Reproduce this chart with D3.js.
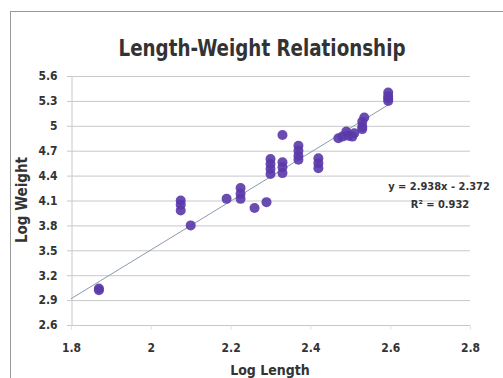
<!DOCTYPE html>
<html>
<head>
<meta charset="utf-8">
<script src="https://cdn.jsdelivr.net/npm/d3@7"></script>
<style>
  body { margin: 0; background: #fff; }
  text { font-family: "DejaVu Sans Condensed", "DejaVu Sans", sans-serif; font-stretch: condensed; fill: #333; }
</style>
</head>
<body>
<script>
// values
var logLength = [1.87, 1.87, 2.075, 2.075, 2.075, 2.10, 2.19, 2.225, 2.225, 2.225, 2.26, 2.29,
  2.30, 2.30, 2.30, 2.30, 2.33, 2.33, 2.33, 2.33, 2.37, 2.37, 2.37, 2.37,
  2.42, 2.42, 2.42, 2.47, 2.48, 2.49, 2.495, 2.505, 2.51, 2.53, 2.53, 2.53, 2.535,
  2.595, 2.595, 2.595, 2.595];
var logWeight = [3.02, 3.04, 4.10, 4.05, 3.98, 3.80, 4.12, 4.25, 4.18, 4.12, 4.01, 4.08,
  4.60, 4.54, 4.48, 4.42, 4.89, 4.56, 4.50, 4.43, 4.76, 4.70, 4.64, 4.59,
  4.61, 4.55, 4.49, 4.85, 4.87, 4.93, 4.88, 4.87, 4.91, 4.96, 4.99, 5.05, 5.10,
  5.40, 5.36, 5.33, 5.30];
var xTicks = [1.8, 2, 2.2, 2.4, 2.6, 2.8];
var yTicks = [2.6, 2.9, 3.2, 3.5, 3.8, 4.1, 4.4, 4.7, 5, 5.3, 5.6];
var slope = 2.938, intercept = -2.372, r2 = 0.932;
var trendRange = [1.8, 2.6];

var width = 503, height = 378;
var svg = d3.select("body").append("svg")
  .attr("width", width)
  .attr("height", height);

// outer chart border
svg.append("rect")
  .attr("x", 10.5).attr("y", 11.5)
  .attr("width", width).attr("height", height)
  .attr("fill", "none").attr("stroke", "#999");

var plot = { left: 71, right: 470, top: 76, bottom: 325 };

var x = d3.scaleLinear().domain([1.8, 2.8]).range([plot.left, plot.right]);
var y = d3.scaleLinear().domain([2.6, 5.6]).range([plot.bottom, plot.top]);

// horizontal gridlines
svg.append("g")
  .selectAll("line")
  .data(yTicks)
  .join("line")
  .attr("x1", plot.left - 4).attr("x2", plot.right)
  .attr("y1", d => y(d) + 0.5).attr("y2", d => y(d) + 0.5)
  .attr("stroke", "#c8c8c8");

// y axis
var yAxis = d3.axisLeft(y).tickValues(yTicks).tickSize(0).tickPadding(14)
  .tickFormat(d3.format("~g"));
var gy = svg.append("g")
  .attr("transform", "translate(" + (plot.left + 0.5) + ",0)")
  .call(yAxis);
gy.select(".domain").attr("stroke", "#c8c8c8");
gy.selectAll("text").style("font-size", "12px").style("font-weight", "bold").attr("fill", "#444");

// x axis
var xAxis = d3.axisBottom(x).tickValues(xTicks).tickSize(4).tickPadding(14)
  .tickFormat(d3.format("~g"));
var gx = svg.append("g")
  .attr("transform", "translate(0," + (plot.bottom + 0.5) + ")")
  .call(xAxis);
gx.select(".domain").remove();
gx.selectAll("line").attr("stroke", "#e0e0e0");
gx.selectAll("text").style("font-size", "12px").style("font-weight", "bold").attr("fill", "#444");

// trendline
svg.append("line")
  .attr("x1", x(trendRange[0])).attr("y1", y(slope * trendRange[0] + intercept))
  .attr("x2", x(trendRange[1])).attr("y2", y(slope * trendRange[1] + intercept))
  .attr("stroke", "#8a9ab0").attr("stroke-width", 1);

// points
var pts = logLength.map((d, i) => ({ x: d, y: logWeight[i] }));
svg.append("g")
  .selectAll("circle")
  .data(pts)
  .join("circle")
  .attr("cx", d => x(d.x))
  .attr("cy", d => y(d.y))
  .attr("r", 5)
  .attr("fill", "#5a38a8")
  .attr("fill-opacity", 0.9);

// title
svg.append("text")
  .attr("x", 262).attr("y", 56)
  .attr("text-anchor", "middle")
  .attr("textLength", 287).attr("lengthAdjust", "spacingAndGlyphs")
  .style("font-size", "23px").style("font-weight", "bold")
  .attr("fill", "#222")
  .text("Length-Weight Relationship");

// axis titles
svg.append("text")
  .attr("x", 270).attr("y", 375)
  .attr("text-anchor", "middle")
  .style("font-size", "14px").style("font-weight", "bold")
  .text("Log Length");

svg.append("text")
  .attr("transform", "translate(27,200) rotate(-90)")
  .attr("text-anchor", "middle")
  .style("font-size", "15px").style("font-weight", "bold")
  .text("Log Weight");

// equation label
svg.append("text")
  .attr("x", 439).attr("y", 190)
  .attr("text-anchor", "middle")
  .style("font-size", "11px").style("font-weight", "bold")
  .text("y = " + slope + "x - " + Math.abs(intercept));
svg.append("text")
  .attr("x", 440).attr("y", 208)
  .attr("text-anchor", "middle")
  .style("font-size", "11px").style("font-weight", "bold")
  .text("R² = " + r2);
</script>
</body>
</html>
